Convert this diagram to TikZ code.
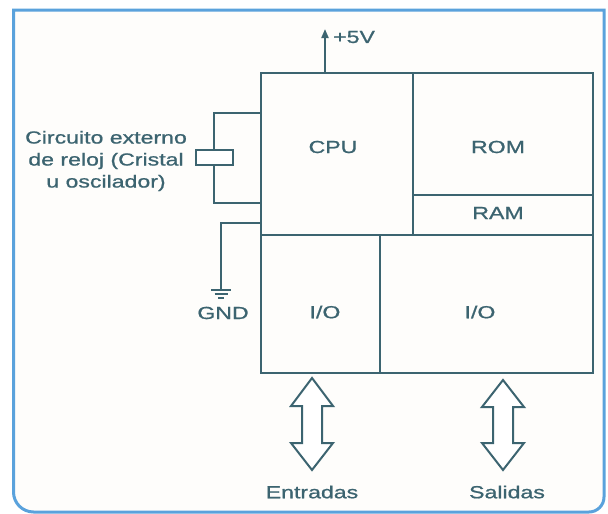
\documentclass[tikz,border=0pt]{standalone}
\usepackage{fontspec}
\newfontfamily\labfont[FakeStretch=1.32,FakeBold=0.9]{Liberation Sans}
\usetikzlibrary{arrows.meta}
\definecolor{ink}{HTML}{3C6470}
\definecolor{frameblue}{HTML}{5AA2DC}
\definecolor{paper}{HTML}{FEFDFB}
\tikzset{
  box/.style={draw=ink, line width=2pt, inner sep=0pt, outer sep=0pt},
  lbl/.style={text=ink, font=\labfont\fontsize{17.5}{22}\selectfont, inner sep=0pt},
  wire/.style={draw=ink, line width=2pt},
  bigarrow/.style={draw=ink, line width=2pt, fill=white, line join=miter},
}
\begin{document}
\begin{tikzpicture}[x=1pt,y=-1pt]
\useasboundingbox (0,0) rectangle (608,514);
% frame
\fill[white] (0,0) rectangle (608,514);
\filldraw[fill=paper, draw=frameblue, line width=3pt]
  (13.5,10) -- (604,10) -- (604,497) arc[start angle=0,end angle=90,radius=15] -- (33.5,512)
  arc[start angle=90,end angle=180,radius=20] -- cycle;
% blocks
\node[box, minimum width=152pt, minimum height=162pt] (cpu) at (337,154) {};
\node[box, minimum width=180pt, minimum height=122pt] (rom) at (503,134) {};
\node[box, minimum width=180pt, minimum height=40pt] (ram) at (503,215) {};
\node[box, minimum width=119pt, minimum height=138pt] (ioa) at (320.5,304) {};
\node[box, minimum width=213pt, minimum height=138pt] (iob) at (486.5,304) {};
% labels
\node[lbl] (tcpu) at (333,147) {CPU};
\node[lbl] (trom) at (498,147) {ROM};
\node[lbl] (tram) at (498,213) {RAM};
\node[lbl] (tioa) at (325,312) {I/O};
\node[lbl] (tiob) at (480,312) {I/O};
% +5V
\coordinate (v5) at (325,29);
\draw[wire, -{Triangle[length=9pt,width=7pt]}] (cpu.north -| v5) -- (v5);
\node[lbl, anchor=west] (t5v) at (333,37) {+5V};
% crystal loop
\coordinate (xa) at (214,113);
\coordinate (xb) at (214,203);
\draw[wire] (cpu.west |- xa) -- (xa) -- (xb) -- (cpu.west |- xb);
\node[box, fill=white, minimum width=37pt, minimum height=15pt] (xtal) at (214,157) {};
\node[lbl, align=center] (txtal) at (106,161) {Circuito externo\\de reloj (Cristal\\u oscilador)};
% ground
\coordinate (ga) at (221,223);
\coordinate (gb) at (221,290);
\draw[wire] (cpu.west |- ga) -- (ga) -- (gb);
\draw[wire] (211,290) -- (231,290);
\draw[wire] (214.5,294) -- (227.5,294);
\draw[wire] (218,298) -- (224,298);
\node[lbl] (tgnd) at (223,313) {GND};
% bidirectional arrows
\draw[bigarrow] (312,378) -- (333,406) -- (322,406) -- (322,443) -- (333,443) -- (312,470)
  -- (291,443) -- (302,443) -- (302,406) -- (291,406) -- cycle;
\draw[bigarrow] (503,380) -- (524,407) -- (513,407) -- (513,443) -- (524,443) -- (503,470)
  -- (482,443) -- (493,443) -- (493,407) -- (482,407) -- cycle;
\node[lbl] (tin) at (312,492) {Entradas};
\node[lbl] (tout) at (507,492) {Salidas};
\end{tikzpicture}
\end{document}
